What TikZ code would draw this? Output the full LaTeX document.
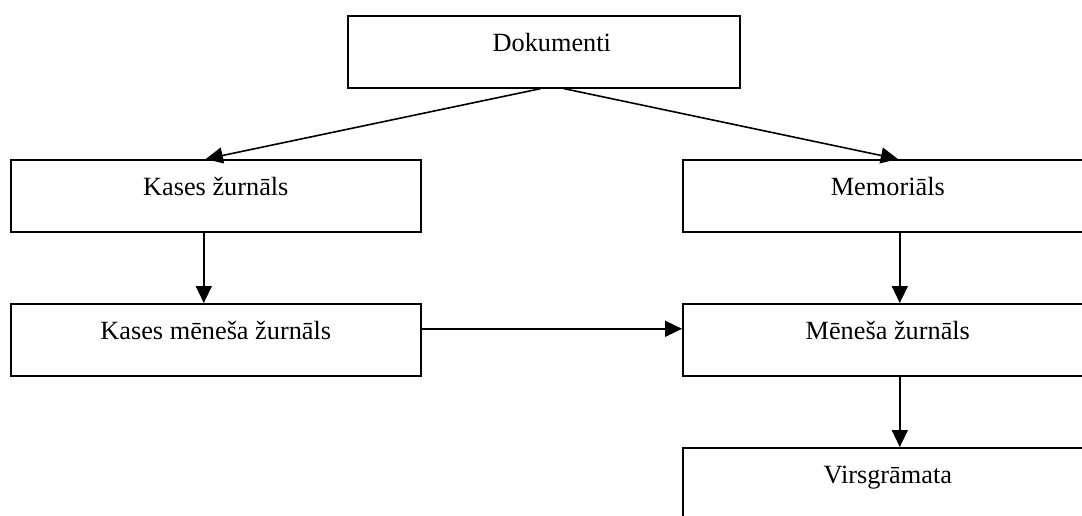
\documentclass[tikz,border=0pt]{standalone}
\usepackage{fontspec}
\setmainfont{Liberation Serif}
\usetikzlibrary{arrows.meta,calc}
\begin{document}
\begin{tikzpicture}[x=1pt,y=-1pt,
  box/.style={draw,line width=1.6pt,rectangle,anchor=north west,inner sep=0pt,
    minimum width=410pt,text height=36pt,text depth=36pt,
    font=\fontsize{26.3}{30}\selectfont},
  conn/.style={line width=1.6pt,-{Triangle[length=17pt,width=16pt]}}]
\clip (0,0) rectangle (1082,516);
\fill[white] (0,0) rectangle (1082,516);
\node[box,minimum width=392pt] (dok) at (347,15) {\hspace*{16pt}Dokumenti};
\node[box] (kz) at (10,159) {Kases žurnāls};
\node[box] (kmz) at (10,303) {Kases mēneša žurnāls};
\node[box] (mem) at (682,159) {Memoriāls};
\node[box] (mz) at (682,303) {Mēneša žurnāls};
\node[box] (vg) at (682,447) {Virsgrāmata};
\draw[conn] ($(dok.south)+(-3,0)$) -- ($(kz.north)+(-10,0)$);
\draw[conn] ($(dok.south)+(20,0)$) -- ($(mem.north)+(10,0)$);
\draw[conn] ($(kz.south)+(-12,0)$) -- ($(kmz.north)+(-12,0)$);
\draw[conn] ($(mem.south)+(12,0)$) -- ($(mz.north)+(12,0)$);
\draw[conn] ($(mz.south)+(12,0)$) -- ($(vg.north)+(12,0)$);
\draw[conn] ($(kmz.east)+(0,-11)$) -- ($(mz.west)+(0,-11)$);
\end{tikzpicture}
\end{document}
